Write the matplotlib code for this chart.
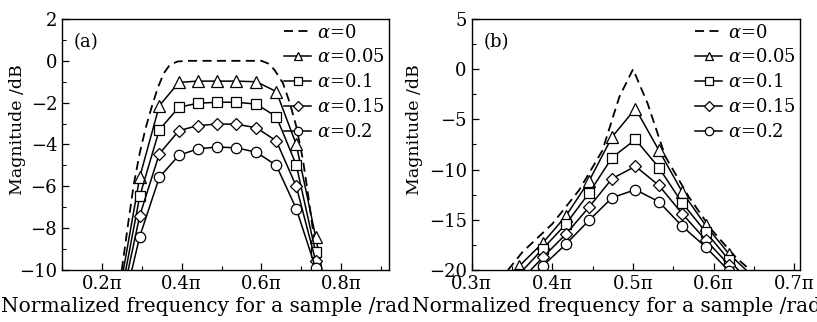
import numpy as np
import matplotlib
matplotlib.use("Agg")
import matplotlib.pyplot as plt
from matplotlib.ticker import MultipleLocator, FuncFormatter

plt.rcParams['font.family'] = ['DejaVu Serif']
plt.rcParams['mathtext.fontset'] = 'dejavuserif'
plt.rcParams['axes.unicode_minus'] = True

# ---- panel (a) data (x in units of pi) ----
a_x = [0.295, 0.344, 0.393, 0.44, 0.489, 0.5375, 0.5875, 0.6375, 0.6875, 0.736]
a_005 = [-5.55, -2.15, -1.03, -0.97, -0.97, -0.97, -1.0, -1.47, -4.0, -8.4]
a_010 = [-6.47, -3.3, -2.22, -2.03, -1.98, -1.98, -2.07, -2.67, -4.98, -9.15]
a_015 = [-7.4, -4.45, -3.34, -3.1, -3.02, -3.03, -3.2, -3.83, -6.0, -9.55]
a_020 = [-8.4, -5.57, -4.52, -4.21, -4.12, -4.16, -4.37, -5.0, -7.07, -9.9]
# where each curve crosses the -10 dB floor (left, right)
a_cross_lo = [0.254, 0.26, 0.266, 0.275]
a_cross_hi = [0.752, 0.745, 0.741, 0.737]
a0_x = [0.25, 0.265, 0.28, 0.295, 0.31, 0.325, 0.34, 0.355, 0.37, 0.39, 0.42,
        0.6, 0.62, 0.6335, 0.654, 0.671, 0.6875, 0.704, 0.7165, 0.729, 0.7415, 0.745]
a0_y = [-10, -7.9, -5.9, -4.4, -3.2, -2.2, -1.3, -0.6, -0.2, -0.03, 0.0,
        0.0, -0.15, -0.45, -1.06, -2.0, -3.13, -4.71, -6.3, -8.05, -9.63, -10]

# ---- panel (b) data ----
b_x = [0.33, 0.359, 0.388, 0.4165, 0.4455, 0.474, 0.503, 0.532, 0.561, 0.59, 0.619, 0.648]
b_005 = [-22.0, -19.6, -17.3, -14.65, -11.13, -6.75, -3.92, -8.08, -12.23, -15.55, -18.4, -20.6]
b_010 = [-23.0, -20.4, -17.9, -15.45, -12.33, -8.8, -7.0, -9.8, -13.33, -16.2, -19.0, -21.5]
b_015 = [-23.5, -21.2, -18.75, -16.45, -13.73, -10.9, -9.67, -11.57, -14.4, -17.0, -19.5, -22.0]
b_020 = [-24.5, -22.0, -19.6, -17.45, -15.05, -12.8, -12.0, -13.2, -15.65, -17.7, -20.1, -22.5]
b0_x = [0.345, 0.363, 0.4, 0.433, 0.462, 0.483, 0.5, 0.518, 0.54, 0.569, 0.598, 0.627, 0.645]
b0_y = [-20, -18.2, -15.4, -12.06, -8.1, -2.76, 0.0, -3.4, -8.7, -12.7, -16.05, -18.7, -20]

alphas = ['0.05', '0.1', '0.15', '0.2']
markers = ['^', 's', 'D', 'o']
msizes = [8, 6.5, 6.5, 7.5]


def pi_fmt(v, pos):
    return f'{v:.1f}π'


def style_axes(ax, ylab_x):
    ax.tick_params(which='both', direction='in', top=False, right=False, labelsize=13)
    ax.tick_params(which='major', length=5, width=0.9)
    ax.tick_params(which='minor', length=3, width=0.8)
    ax.xaxis.set_major_formatter(FuncFormatter(pi_fmt))
    for s in ax.spines.values():
        s.set_linewidth(1.0)
    ax.set_xlabel('Normalized frequency for a sample /rad', fontsize=14.5)
    ax.xaxis.set_label_coords(0.44, -0.107)
    ax.set_ylabel('Magnitude /dB', fontsize=12.5)
    ax.yaxis.set_label_coords(ylab_x, 0.56)


fig = plt.figure(figsize=(8.17, 3.22), dpi=100)
ax1 = fig.add_axes([0.0759, 0.1615, 0.4002, 0.7795])
ax2 = fig.add_axes([0.5774, 0.1615, 0.4018, 0.7795])

# panel (a)
ax1.plot(a0_x, a0_y, color='black', lw=1.3, ls=(0, (5, 3)), label=r'$\alpha$=0')
for i, ys in enumerate([a_005, a_010, a_015, a_020]):
    xs = [a_cross_lo[i]] + a_x + [a_cross_hi[i]]
    yl = [-10.0] + ys + [-10.0]
    ax1.plot(xs, yl, color='black', lw=1.1, marker=markers[i], ms=msizes[i],
             mfc='white', mec='black', mew=0.9, markevery=slice(1, -1),
             label=r'$\alpha$=' + alphas[i])
ax1.set_xlim(0.1, 0.92)
ax1.set_ylim(-10, 2)
ax1.xaxis.set_major_locator(MultipleLocator(0.2))
ax1.xaxis.set_minor_locator(MultipleLocator(0.1))
ax1.yaxis.set_major_locator(MultipleLocator(2))
ax1.yaxis.set_minor_locator(MultipleLocator(1))
style_axes(ax1, -0.11)
ax1.text(0.035, 0.91, '(a)', transform=ax1.transAxes, fontsize=13, va='center')

# panel (b)
ax2.plot(b0_x, b0_y, color='black', lw=1.3, ls=(0, (5, 3)), label=r'$\alpha$=0')
for i, ys in enumerate([b_005, b_010, b_015, b_020]):
    ax2.plot(b_x, ys, color='black', lw=1.1, marker=markers[i], ms=msizes[i],
             mfc='white', mec='black', mew=0.9, label=r'$\alpha$=' + alphas[i])
ax2.set_xlim(0.3, 0.707)
ax2.set_ylim(-20, 5)
ax2.xaxis.set_major_locator(MultipleLocator(0.1))
ax2.xaxis.set_minor_locator(MultipleLocator(0.05))
ax2.yaxis.set_major_locator(MultipleLocator(5))
ax2.yaxis.set_minor_locator(MultipleLocator(2.5))
style_axes(ax2, -0.148)
ax2.text(0.035, 0.91, '(b)', transform=ax2.transAxes, fontsize=13, va='center')

for ax in (ax1, ax2):
    ax.legend(loc='upper right', frameon=False, fontsize=13, handlelength=1.5,
              handletextpad=0.3, labelspacing=0.38, borderaxespad=0.1,
              borderpad=0.15, markerscale=0.8)

fig.savefig('out.png', dpi=100)
